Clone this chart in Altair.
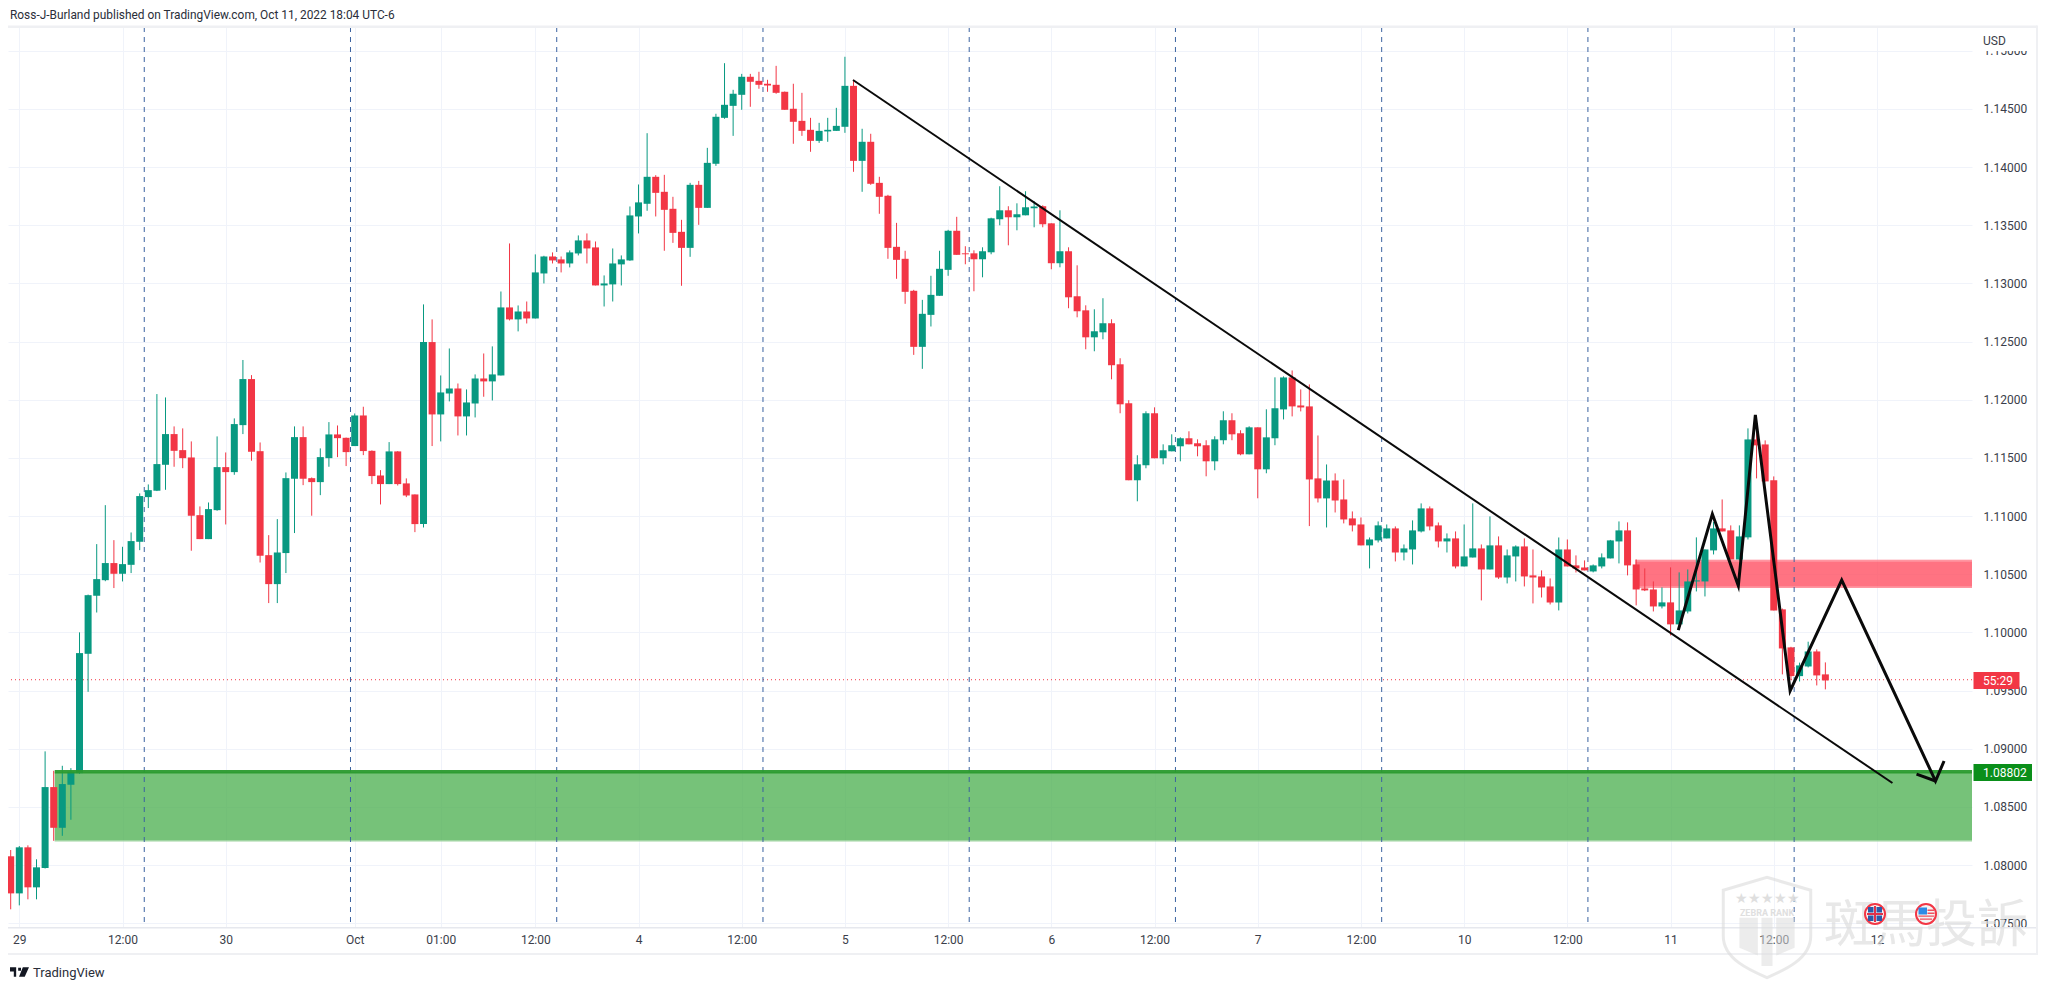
import altair as alt
import pandas as pd

# ---------- candle values (hourly OHLC) ----------
opens = [
 1.08075,1.07756,1.08152,1.07808,1.07974,1.08670,1.08320,1.08690,1.08790,1.09816,
 1.10315,1.10449,1.10596,1.10504,1.10581,1.10779,1.11163,1.11218,1.11441,1.11705,
 1.11567,1.11504,1.11008,1.10802,1.11051,1.11421,1.11378,1.11782,1.12178,1.11558,
 1.10664,1.10415,1.10682,1.11321,1.11679,1.11326,1.11292,1.11498,1.11702,1.11673,
 1.11602,1.11865,1.11561,1.11349,1.11275,1.11556,1.11281,1.11186,1.10931,1.12496,
 1.11874,1.12054,1.12097,1.11857,1.11968,1.12183,1.12158,1.12209,1.12794,1.12691,
 1.12759,1.12699,1.13086,1.13232,1.13207,1.13172,1.13258,1.13370,1.13310,1.12983,
 1.12992,1.13164,1.13198,1.13576,1.13685,1.13917,1.13788,1.13642,1.13444,1.13306,
 1.13848,1.13650,1.14029,1.14424,1.14527,1.14622,1.14777,1.14742,1.14717,1.14708,
 1.14648,1.14502,1.14398,1.14321,1.14226,1.14307,1.14312,1.14347,1.14699,1.14054,
 1.14218,1.13865,1.13754,1.13315,1.13212,1.12937,1.12455,1.12730,1.12894,1.13117,
 1.13453,1.13259,1.13259,1.13208,1.13268,1.13552,1.13629,1.13569,1.13586,1.13646,
 1.13664,1.13517,1.13174,1.13277,1.12890,1.12769,1.12537,1.12580,1.12658,1.12305,
 1.11970,1.11308,1.11437,1.11884,1.11497,1.11557,1.11600,1.11669,1.11626,1.11609,
 1.11471,1.11652,1.11824,1.11712,1.11531,1.11763,1.11402,1.11669,1.11917,1.12192,
 1.11951,1.11943,1.11324,1.11152,1.11306,1.11143,1.10980,1.10928,1.10748,1.10791,
 1.10808,1.10894,1.10687,1.10713,1.10868,1.11066,1.10920,1.10782,1.10808,1.10567,
 1.10644,1.10722,1.10541,1.10748,1.10472,1.10653,1.10739,1.10490,1.10481,1.10395,
 1.10257,1.10713,1.10576,1.10558,1.10524,1.10567,1.10636,1.10782,1.10877,1.10584,
 1.10378,1.10369,1.10223,1.10258,1.10069,1.10180,1.10438,1.10438,1.10705,1.10894,
 1.10877,1.10627,1.10817,1.11659,1.11616,1.11307,1.10198,1.09871,1.09624,1.09707,
 1.09836,1.09639]
highs = [
 1.08129,1.08163,1.08169,1.08049,1.08977,1.08810,1.08853,1.08833,1.10000,1.10325,
 1.10759,1.11094,1.10793,1.10736,1.10859,1.11195,1.11272,1.12049,1.12020,1.11771,
 1.11754,1.11642,1.11083,1.11117,1.11685,1.11547,1.11840,1.12342,1.12212,1.11633,
 1.10836,1.10974,1.11375,1.11771,1.11771,1.11332,1.11582,1.11808,1.11779,1.11675,
 1.11882,1.11940,1.11565,1.11395,1.11636,1.11558,1.11324,1.11186,1.12820,1.12691,
 1.12209,1.12441,1.12140,1.12089,1.12218,1.12398,1.12459,1.12931,1.13344,1.12811,
 1.12845,1.13250,1.13238,1.13267,1.13232,1.13284,1.13413,1.13430,1.13361,1.13069,
 1.13301,1.13241,1.13662,1.13851,1.14292,1.13931,1.13934,1.13745,1.13547,1.13865,
 1.13882,1.14166,1.14459,1.14894,1.14665,1.14802,1.14802,1.14820,1.14751,1.14871,
 1.14650,1.14717,1.14639,1.14424,1.14381,1.14424,1.14510,1.14949,1.14751,1.14330,
 1.14287,1.13917,1.13762,1.13521,1.13281,1.12945,1.12859,1.13066,1.13281,1.13461,
 1.13573,1.13320,1.13285,1.13311,1.13565,1.13836,1.13664,1.13689,1.13793,1.13707,
 1.13672,1.13517,1.13629,1.13311,1.13156,1.12812,1.12778,1.12873,1.12692,1.12357,
 1.11996,1.11523,1.11901,1.11935,1.11617,1.11703,1.11677,1.11729,1.11660,1.11652,
 1.11686,1.11901,1.11884,1.11738,1.11772,1.11763,1.11918,1.12193,1.12201,1.12252,
 1.12089,1.12132,1.11693,1.11444,1.11367,1.11315,1.11040,1.10988,1.10816,1.10954,
 1.10928,1.10911,1.10756,1.10963,1.11109,1.11083,1.10945,1.10851,1.10868,1.10928,
 1.11109,1.10756,1.10997,1.10825,1.10713,1.10748,1.10808,1.10713,1.10533,1.10464,
 1.10816,1.10799,1.10662,1.10619,1.10584,1.10679,1.10795,1.10954,1.10946,1.10627,
 1.10550,1.10438,1.10387,1.10559,1.10516,1.10541,1.10817,1.10713,1.10950,1.11143,
 1.10920,1.10920,1.11754,1.11720,1.11651,1.11341,1.10205,1.09876,1.09740,1.09920,
 1.09854,1.09742]
lows = [
 1.07619,1.07653,1.07705,1.07705,1.07970,1.08208,1.08251,1.08389,1.08785,1.09489,
 1.10171,1.10440,1.10381,1.10438,1.10510,1.10707,1.11069,1.11215,1.11226,1.11424,
 1.11412,1.10702,1.10802,1.10802,1.11046,1.10928,1.11355,1.11705,1.11476,1.10601,
 1.10252,1.10252,1.10510,1.10854,1.11266,1.11003,1.11180,1.11424,1.11507,1.11430,
 1.11602,1.11524,1.11275,1.11100,1.11275,1.11263,1.11163,1.10862,1.10902,1.11602,
 1.11642,1.11986,1.11693,1.11693,1.11848,1.12026,1.11994,1.12209,1.12682,1.12588,
 1.12656,1.12699,1.13000,1.13172,1.13095,1.13138,1.13241,1.13172,1.12983,1.12802,
 1.12845,1.12983,1.13195,1.13430,1.13625,1.13576,1.13281,1.13349,1.12980,1.13229,
 1.13504,1.13650,1.14011,1.14416,1.14269,1.14493,1.14519,1.14674,1.14648,1.14631,
 1.14493,1.14201,1.14269,1.14132,1.14209,1.14218,1.14312,1.14295,1.13960,1.13788,
 1.13848,1.13599,1.13212,1.13040,1.12825,1.12386,1.12266,1.12630,1.12894,1.13066,
 1.13246,1.13165,1.12933,1.13053,1.13251,1.13500,1.13328,1.13457,1.13586,1.13483,
 1.13483,1.13122,1.13139,1.12787,1.12709,1.12434,1.12417,1.12520,1.12176,1.11884,
 1.11308,1.11127,1.11411,1.11497,1.11445,1.11557,1.11471,1.11617,1.11514,1.11342,
 1.11394,1.11617,1.11652,1.11523,1.11531,1.11153,1.11368,1.11609,1.11831,1.11857,
 1.11900,1.10914,1.11117,1.10902,1.11031,1.10937,1.10868,1.10748,1.10550,1.10773,
 1.10808,1.10610,1.10619,1.10584,1.10859,1.10877,1.10730,1.10687,1.10550,1.10567,
 1.10644,1.10275,1.10541,1.10460,1.10421,1.10438,1.10395,1.10249,1.10300,1.10240,
 1.10189,1.10567,1.10515,1.10533,1.10516,1.10550,1.10636,1.10593,1.10490,1.10232,
 1.10355,1.10180,1.10206,1.09974,1.10026,1.10163,1.10352,1.10309,1.10670,1.10868,
 1.10627,1.10618,1.10799,1.11324,1.11298,1.10189,1.09639,1.09590,1.09578,1.09699,
 1.09544,1.09510]
closes = [
 1.07756,1.08152,1.07808,1.07980,1.08670,1.08320,1.08696,1.08802,1.09822,1.10320,
 1.10458,1.10596,1.10504,1.10587,1.10785,1.11172,1.11223,1.11447,1.11705,1.11561,
 1.11498,1.11003,1.10802,1.11060,1.11421,1.11378,1.11791,1.12178,1.11553,1.10659,
 1.10415,1.10687,1.11326,1.11679,1.11321,1.11292,1.11507,1.11702,1.11670,1.11550,
 1.11865,1.11559,1.11344,1.11275,1.11556,1.11275,1.11177,1.10931,1.12496,1.11874,
 1.12063,1.12097,1.11857,1.11977,1.12183,1.12158,1.12218,1.12794,1.12691,1.12759,
 1.12699,1.13095,1.13232,1.13198,1.13172,1.13267,1.13370,1.13301,1.12983,1.13000,
 1.13172,1.13207,1.13585,1.13697,1.13917,1.13779,1.13633,1.13435,1.13306,1.13848,
 1.13650,1.14037,1.14433,1.14536,1.14631,1.14777,1.14734,1.14708,1.14702,1.14639,
 1.14493,1.14390,1.14312,1.14226,1.14312,1.14321,1.14355,1.14699,1.14054,1.14218,
 1.13857,1.13745,1.13306,1.13203,1.12928,1.12455,1.12739,1.12902,1.13126,1.13453,
 1.13246,1.13251,1.13208,1.13277,1.13560,1.13629,1.13569,1.13595,1.13655,1.13661,
 1.13509,1.13174,1.13277,1.12881,1.12761,1.12537,1.12589,1.12658,1.12297,1.11961,
 1.11308,1.11445,1.11884,1.11497,1.11566,1.11609,1.11669,1.11617,1.11600,1.11471,
 1.11660,1.11824,1.11703,1.11531,1.11763,1.11402,1.11677,1.11927,1.12192,1.11943,
 1.11934,1.11315,1.11152,1.11306,1.11134,1.10971,1.10920,1.10748,1.10799,1.10920,
 1.10894,1.10687,1.10722,1.10877,1.11066,1.10911,1.10782,1.10808,1.10567,1.10653,
 1.10722,1.10541,1.10748,1.10472,1.10662,1.10739,1.10481,1.10472,1.10386,1.10257,
 1.10713,1.10567,1.10550,1.10533,1.10576,1.10645,1.10791,1.10877,1.10576,1.10369,
 1.10361,1.10223,1.10258,1.10069,1.10189,1.10438,1.10447,1.10713,1.10894,1.10868,
 1.10627,1.10825,1.11659,1.11608,1.11298,1.10189,1.09862,1.09624,1.09716,1.09836,
 1.09630,1.09587]

tick_index = [1,13,25,40,50,61,73,85,97,109,121,133,145,157,169,181,193,205,217]
tick_label = ["29","12:00","30","Oct","01:00","12:00","4","12:00","5","12:00","6","12:00","7","12:00","10","12:00","11","12:00","12"]
price_ticks = [1.075,1.08,1.085,1.09,1.095,1.10,1.105,1.11,1.115,1.12,1.125,1.13,1.135,1.14,1.145,1.15]
session_lines = [15.53,39.51,63.49,87.47,111.45,135.43,159.41,183.39,207.37]
last_price = 1.09593
green_zone = [5.12, 228.05, 1.08802, 1.08202]
red_zone = [188.9, 228.05, 1.10625, 1.10381]
trend_i = [97.94, 218.8]
trend_p = [1.14749, 1.08705]
zig_i = [193.9,197.86,200.88,202.86,206.9,212.9,223.81,224.8]
zig_p = [1.1002,1.11018,1.10401,1.11869,1.09498,1.1045,1.08722,1.08894]
wing_i = [221.6,223.81]
wing_p = [1.08782,1.08722]

UP, DOWN = "#089981", "#f23645"
FONT = "Roboto"
TXT = "#3a3e4a"
FRAME = "#eff0f3"
W, H = 1964, 900
OFFX, OFFY = 8, 27  # page position of the plot's corner

df = pd.DataFrame({"i": range(len(opens)), "o": opens, "h": highs, "l": lows, "c": closes})
df["col"] = [UP if c >= o else DOWN for o, c in zip(opens, closes)]

xs = alt.Scale(domain=[-0.314, 228.05], range=[0, W], nice=False, zero=False, padding=0)
ys = alt.Scale(domain=[1.07467, 1.15205], nice=False, zero=False)
label_js = "{" + ",".join(f"'{k}':'{v}'" for k, v in zip(tick_index, tick_label)) + "}"
AX = alt.Axis(values=tick_index, labelExpr=f"{label_js}[datum.value]", grid=True, gridColor="#f0f3fa", gridWidth=1,
              domain=False, ticks=False, labelFont=FONT, labelFontSize=12, labelColor=TXT, labelPadding=7,
              labelOverlap=False, labelFlush=False, labelBound=False, title=None, zindex=0)
AY = alt.Axis(orient="right", values=price_ticks, format=".5f", grid=True, gridColor="#f0f3fa", gridWidth=1,
              domain=False, ticks=False, labelFont=FONT, labelFontSize=12, labelColor=TXT, labelPadding=11,
              labelOverlap=False, labelFlush=False, labelBound=False, title=None, zindex=0)
def XF(f): return alt.X(f, scale=xs, axis=AX)
def YF(f): return alt.Y(f, scale=ys, axis=AY)
X = XF("i:Q")
Y = YF("p:Q")
one = alt.Data(values=[{"a": 0}])


def rect_px(x0, x1, y0, y1, color, opacity=1.0):
    return alt.Chart(one).mark_rect(color=color, opacity=opacity, clip=False).encode(
        x=alt.value(x0 - OFFX), x2=alt.value(x1 - OFFX), y=alt.value(y0 - OFFY), y2=alt.value(y1 - OFFY))

def text_px(s, x, y, size=12, color=TXT, align="left", weight="normal", font=FONT, opacity=1.0):
    return alt.Chart(one).mark_text(text=s, fontSize=size, color=color, align=align, baseline="middle",
                                    fontWeight=weight, font=font, opacity=opacity, clip=False).encode(
        x=alt.value(x - OFFX), y=alt.value(y - OFFY))

def shape_px(path, x, y, extent, fill=None, stroke=None, sw=0, opacity=1.0):
    kw = dict(shape=path, size=extent * extent, opacity=opacity, filled=fill is not None, clip=False)
    if fill is not None:
        kw["fill"] = fill
    if stroke is not None:
        kw["stroke"] = stroke
        kw["strokeWidth"] = sw
    else:
        kw["strokeWidth"] = 0
    return alt.Chart(one).mark_point(**kw).encode(x=alt.value(x - OFFX), y=alt.value(y - OFFY))

def zone(z, color, opacity):
    d = pd.DataFrame({"a": [z[0]], "b": [z[1]], "t": [z[2]], "u": [z[3]]})
    return alt.Chart(d).mark_rect(color=color, opacity=opacity, clip=True).encode(
        x=XF("a:Q"), x2="b:Q", y=YF("u:Q"), y2="t:Q")

def hline(a, b, prices, **kw):
    d = pd.DataFrame({"a": [a] * len(prices), "b": [b] * len(prices), "p": prices})
    return alt.Chart(d).mark_rule(clip=True, **kw).encode(x=XF("a:Q"), x2="b:Q", y=Y)

green_rect = zone(green_zone, "#4caf50", 0.765)
green_edge = hline(green_zone[0], green_zone[1], [green_zone[3]], color="#ffffff", opacity=0.3, strokeWidth=3)
red_rect = zone(red_zone, "#ff5063", 0.8)
red_edges = hline(red_zone[0], red_zone[1], [red_zone[2] - 0.00008, red_zone[3] + 0.00008], color="#ffffff", opacity=0.25, strokeWidth=2)

dotted = alt.Chart(pd.DataFrame({"p": [last_price]})).mark_rule(color="#f23645", strokeDash=[1, 3], strokeWidth=1, clip=True).encode(y=Y)
sessions = alt.Chart(pd.DataFrame({"i": session_lines})).mark_rule(color="#3a62a0", strokeDash=[5, 5], strokeWidth=1, clip=True).encode(x=X)

wicks = alt.Chart(df).mark_rule(strokeWidth=1, clip=True).encode(
    x=X, y=YF("l:Q"), y2="h:Q", color=alt.Color("col:N", scale=None))
bodies = alt.Chart(df).mark_bar(size=7, clip=True).encode(
    x=X, y=YF("o:Q"), y2="c:Q", color=alt.Color("col:N", scale=None))

green_line = hline(green_zone[0], green_zone[1], [green_zone[2]], color="#2a9a2e", strokeWidth=3.5, opacity=0.95)

def poly(xv, yv, width):
    d = pd.DataFrame({"i": xv, "p": yv, "k": range(len(xv))})
    return alt.Chart(d).mark_line(color="#0a0a0a", strokeWidth=width, clip=True, strokeJoin="miter", strokeMiterLimit=8).encode(x=X, y=Y, order="k:Q")

trend = poly(trend_i, trend_p, 2)
zig = poly(zig_i, zig_p, 3)
wing = poly(wing_i, wing_p, 3)

# frame
frame = [
    rect_px(7, 2037, 25.5, 28, FRAME),
    rect_px(6.5, 8, 25.5, 955, FRAME),
    rect_px(6.5, 2037, 927, 928.5, "#e6e8ee"),
    rect_px(6.5, 2037, 953, 955, FRAME),
    rect_px(2036, 2038, 25.5, 955, FRAME),
]

# TradingView logo
tv_logo = "M-1,-0.5L-0.35,-0.5L-0.35,0.5L-0.6,0.5L-0.6,-0.05L-1,-0.05ZM-0.14,-0.45L0.16,-0.45L0.16,-0.13L-0.14,-0.13ZM0.35,-0.5L1,-0.5L0.55,0.5L-0.05,0.5Z"

# watermark
shield = "M-0.95,-0.8L0,-1.08L0.95,-0.8L0.95,0.2C0.95,0.7 0.35,0.95 0,1.1C-0.35,0.95 -0.95,0.7 -0.95,0.2Z"
shield_bars = "M-0.6,-0.2L-0.2,-0.2L-0.2,0.62L-0.6,0.45ZM-0.12,-0.2L0.12,-0.2L0.12,0.85L-0.12,0.85ZM0.2,-0.2L0.6,-0.2L0.6,0.45L0.2,0.62Z"
WM = "#dcdcdc"

uk_blue = "M-0.7,-0.7L-0.15,-0.7L-0.15,-0.15L-0.7,-0.15ZM0.15,-0.7L0.7,-0.7L0.7,-0.15L0.15,-0.15ZM-0.7,0.15L-0.15,0.15L-0.15,0.7L-0.7,0.7ZM0.15,0.15L0.7,0.15L0.7,0.7L0.15,0.7Z"
uk_cross = "M-0.1,-0.8L0.1,-0.8L0.1,-0.1L0.8,-0.1L0.8,0.1L0.1,0.1L0.1,0.8L-0.1,0.8L-0.1,0.1L-0.8,0.1L-0.8,-0.1L-0.1,-0.1Z"
us_blue = "M-0.75,-0.65L0.1,-0.65L0.1,0.05L-0.75,0.05Z"
us_red = "M-0.75,0.15L0.8,0.15L0.8,0.28L-0.75,0.28ZM-0.6,0.45L0.6,0.45L0.6,0.58L-0.6,0.58ZM0.15,-0.45L0.8,-0.45L0.8,-0.3L0.15,-0.3ZM0.15,-0.15L0.85,-0.15L0.85,0L0.15,0Z"
ring = "circle"

top_layers = [
    rect_px(1976, 2034, 28, 51, "#ffffff"),
    text_px("USD", 1983, 41, size=12),
    rect_px(1973.5, 2019.5, 672, 689, "#f23645"),
    text_px("55:29", 1983, 680.5, size=12, color="#ffffff"),
    rect_px(1973.5, 2032, 764, 781, "#0a8f1a"),
    text_px("1.08802", 1983, 772.5, size=12, color="#ffffff"),
    text_px("Ross-J-Burland published on TradingView.com, Oct 11, 2022 18:04 UTC-6", 10, 15, size=11.9, color="#2a2e39"),
    shape_px(tv_logo, 19.5, 972, 19, fill="#131722"),
    text_px("TradingView", 33, 973, size=13, color="#2a2e39"),
    shape_px(shield, 1767, 927, 92, stroke=WM, sw=3, opacity=0.6),
    shape_px(shield_bars, 1767, 927, 92, fill=WM, opacity=0.55),
    text_px("★★★★★", 1767, 899, size=14, color=WM, align="center", opacity=0.9),
    text_px("ZEBRA RANK", 1767, 913, size=9, color=WM, align="center", weight="bold", opacity=0.9),
    text_px("斑馬投訴", 1824, 927, size=51, color=WM, font="Noto Sans CJK TC", opacity=0.65),
    shape_px(ring, 1875, 914, 20, fill="#f4f4f4", stroke="#f23645", sw=2),
    shape_px(uk_blue, 1875, 914, 20, fill="#2c5aa8"),
    shape_px(uk_cross, 1875, 914, 20, fill="#e0324a"),
    shape_px(ring, 1926, 914, 20, fill="#f4f4f4", stroke="#f23645", sw=2),
    shape_px(us_blue, 1926, 914, 20, fill="#2e8be6"),
    shape_px(us_red, 1926, 914, 20, fill="#f0505f"),
]

chart = alt.layer(
    green_rect, green_edge, red_rect, red_edges, dotted, sessions, wicks, bodies,
    green_line, trend, zig, wing, *frame, *top_layers
).properties(
    width=W, height=H,
    padding={"left": 0, "top": 19, "right": 67, "bottom": 55},
    autosize=alt.AutoSizeParams(type="none"),
    background="#ffffff",
).configure_view(stroke=None)

chart.save("out.html", embed_options={"renderer": "svg", "actions": False})
